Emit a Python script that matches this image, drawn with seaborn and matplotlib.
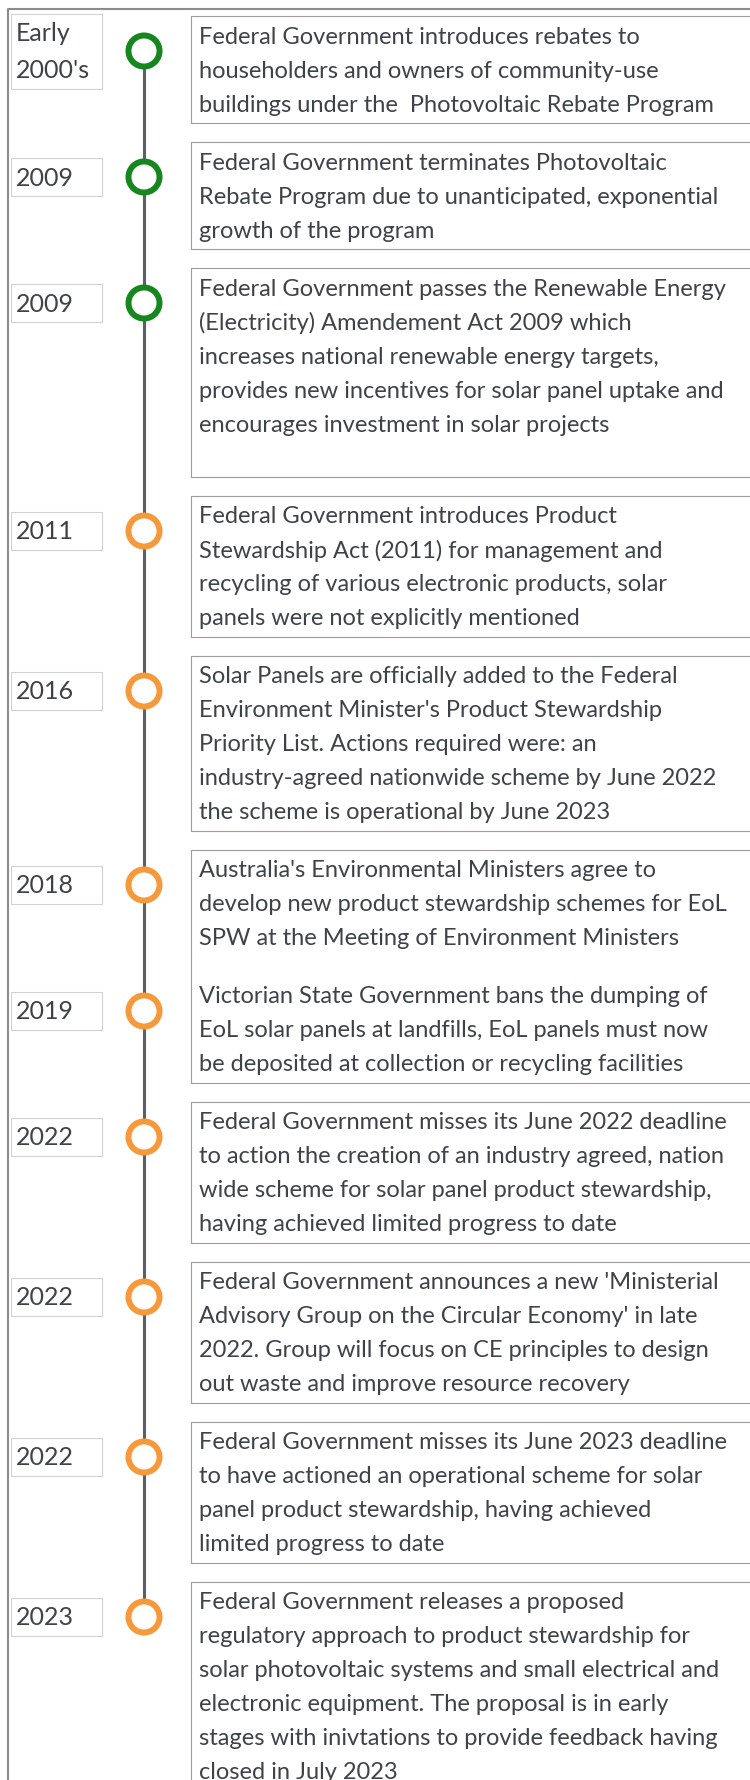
import matplotlib
matplotlib.use("Agg")
import matplotlib.pyplot as plt
import seaborn as sns
import pandas as pd
from matplotlib.patches import Rectangle

# timeline content
years = ["Early\n2000's", "2009", "2009", "2011", "2016", "2018",
         "2019", "2022", "2022", "2022", "2023"]
phase = ["rebate", "rebate", "rebate", "stewardship", "stewardship", "stewardship",
         "stewardship", "stewardship", "stewardship", "stewardship", "stewardship"]
events = [
    "Federal Government introduces rebates to\n"
    "householders and owners of community-use\n"
    "buildings under the  Photovoltaic Rebate Program",
    "Federal Government terminates Photovoltaic\n"
    "Rebate Program due to unanticipated, exponential\n"
    "growth of the program",
    "Federal Government passes the Renewable Energy\n"
    "(Electricity) Amendement Act 2009 which\n"
    "increases national renewable energy targets,\n"
    "provides new incentives for solar panel uptake and\n"
    "encourages investment in solar projects\n",
    "Federal Government introduces Product\n"
    "Stewardship Act (2011) for management and\n"
    "recycling of various electronic products, solar\n"
    "panels were not explicitly mentioned",
    "Solar Panels are officially added to the Federal\n"
    "Environment Minister's Product Stewardship\n"
    "Priority List. Actions required were: an\n"
    "industry-agreed nationwide scheme by June 2022\n"
    "the scheme is operational by June 2023",
    "Australia's Environmental Ministers agree to\n"
    "develop new product stewardship schemes for EoL\n"
    "SPW at the Meeting of Environment Ministers",
    "Victorian State Government bans the dumping of\n"
    "EoL solar panels at landfills, EoL panels must now\n"
    "be deposited at collection or recycling facilities",
    "Federal Government misses its June 2022 deadline\n"
    "to action the creation of an industry agreed, nation\n"
    "wide scheme for solar panel product stewardship,\n"
    "having achieved limited progress to date",
    "Federal Government announces a new 'Ministerial\n"
    "Advisory Group on the Circular Economy' in late\n"
    "2022. Group will focus on CE principles to design\n"
    "out waste and improve resource recovery",
    "Federal Government misses its June 2023 deadline\n"
    "to have actioned an operational scheme for solar\n"
    "panel product stewardship, having achieved\n"
    "limited progress to date",
    "Federal Government releases a proposed\n"
    "regulatory approach to product stewardship for\n"
    "solar photovoltaic systems and small electrical and\n"
    "electronic equipment. The proposal is in early\n"
    "stages with inivtations to provide feedback having\n"
    "closed in July 2023",
]

palette = {"rebate": "#16871f", "stewardship": "#f5993a"}
TEXT = "#3e4349"

W, H = 750, 1781
LINE_X = 144
LINE_H = 34   # px between text lines
GAP = 19      # px between boxes
OPEN_BELOW = {5}  # the 2018 box runs straight into the 2019 one

sns.set_theme(style="white")
plt.rcParams['font.family'] = ['Lato', 'DejaVu Sans']

fig = plt.figure(figsize=(W / 100, H / 100), dpi=100)
ax = fig.add_axes([0, 0, 1, 1])
ax.set_xlim(0, W)
ax.set_ylim(H, 0)
ax.axis("off")

# stack the boxes from their line counts
tops, heights = [], []
y = 17
for ev in events:
    n = ev.count("\n") + 1
    h = LINE_H * n + 5
    tops.append(y)
    heights.append(h)
    y += h + GAP

df = pd.DataFrame({"year": years, "phase": phase, "event": events,
                   "top": tops, "height": heights})
df["cy"] = df["top"] + 35
df["cx"] = LINE_X

# outer frame
ax.plot([8, 8, W + 5], [H + 5, 10, 10], color="#8c8c8c", lw=1.5, zorder=1)

# spine of the timeline
ax.plot([LINE_X, LINE_X], [df["cy"].iloc[0], df["cy"].iloc[-1]],
        color="#5b6068", lw=2.2, zorder=2)

BOX_X = 191
for k, r in df.iterrows():
    # event box
    top, bot = r["top"], r["top"] + r["height"]
    if k - 1 in OPEN_BELOW:
        top = df["top"][k - 1] + df["height"][k - 1]
    edge = dict(color="#9c9c9c", lw=0.8, zorder=1)
    ax.plot([W + 5, BOX_X, BOX_X], [top, top, bot], **edge) if k - 1 not in OPEN_BELOW \
        else ax.plot([BOX_X, BOX_X], [top, bot], **edge)
    if k not in OPEN_BELOW:
        ax.plot([BOX_X, W + 5], [bot, bot], **edge)
    for i, line in enumerate(r["event"].split("\n")):
        ax.text(199, r["top"] + 20 + LINE_H * i, line, fontsize=17,
                color=TEXT, va="center", ha="left")
    # year label box
    ylines = r["year"].split("\n")
    yh = 37 * len(ylines) + 1
    ax.add_patch(Rectangle((11, r["cy"] - yh / 2), 91, yh, fill=False,
                           edgecolor="#d2d2d2", lw=0.8, zorder=1))
    for i, line in enumerate(ylines):
        off = (i - (len(ylines) - 1) / 2) * 37
        ax.text(16, r["cy"] + off, line, fontsize=18, color=TEXT,
                va="center", ha="left")

sns.scatterplot(data=df, x="cx", y="cy", hue="phase", palette=palette,
                s=500, legend=False, ax=ax, zorder=3)
rings = ax.collections[-1]
rings.set_edgecolor(rings.get_facecolors())
rings.set_facecolor("white")
rings.set_linewidth(4.3)

ax.set_xlim(0, W)
ax.set_ylim(H, 0)
fig.savefig("out.png", dpi=100, facecolor="white")
